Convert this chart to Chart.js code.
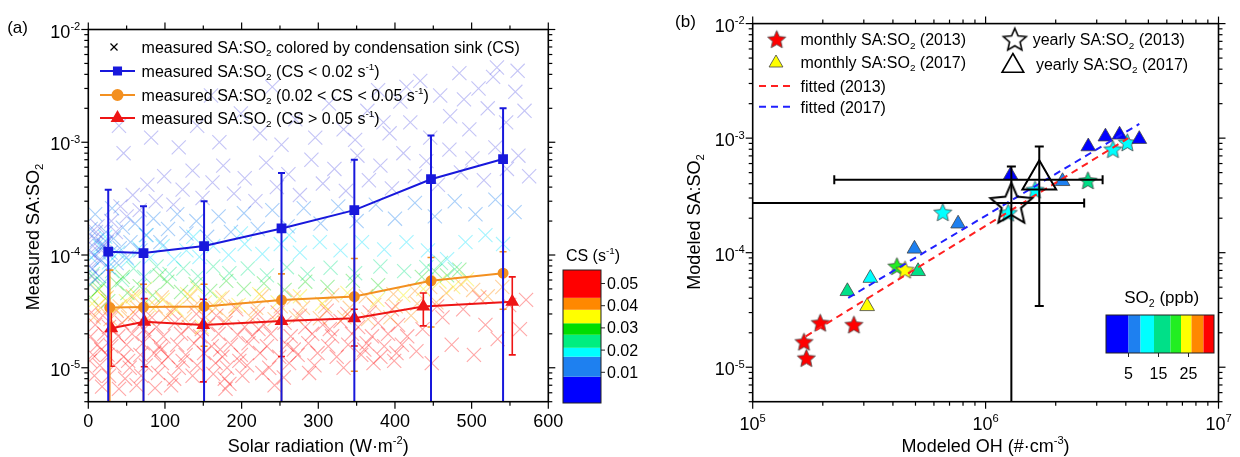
<!DOCTYPE html>
<html>
<head>
<meta charset="utf-8">
<script src="https://cdn.jsdelivr.net/npm/chart.js@4.4.0/dist/chart.umd.min.js"></script>
<style>
  body { margin: 0; background: #fff; width: 1240px; height: 457px; overflow: hidden; position: relative; }
  canvas { position: absolute; top: 0; }
  #chartA { left: 0; }
  #chartB { left: 620px; }
</style>
</head>
<body>
<canvas id="chartA" width="700" height="457"></canvas>
<canvas id="chartB" width="620" height="457"></canvas>
<script>
// ---------- panel (a): measured SA:SO2 vs solar radiation ----------
const blueX = [26, 72, 151, 252, 347, 447, 541];
const blueY = [1.07e-4, 1.04e-4, 1.2e-4, 1.72e-4, 2.5e-4, 4.7e-4, 7.1e-4];
const blueHi = [3.8e-4, 2.7e-4, 3.0e-4, 5.35e-4, 7.0e-4, 1.15e-3, 2.0e-3];
const blueLo = [1e-6, 1e-6, 1e-6, 1e-6, 1e-6, 1e-6, 1e-6];

const orangeX = [28, 72, 151, 252, 347, 447, 541];
const orangeY = [3.42e-5, 3.45e-5, 3.5e-5, 3.98e-5, 4.28e-5, 5.9e-5, 6.9e-5];
const orangeHi = [7.35e-5, 5.5e-5, 5.5e-5, 6.8e-5, 9.3e-5, 9.5e-5, 1.07e-4];
const orangeLo = [1e-6, 1e-6, 1.55e-5, 1e-6, 9.3e-6, 2.3e-5, 3.3e-5];

const redX = [30, 73, 150, 252, 347, 437, 553];
const redY = [2.24e-5, 2.56e-5, 2.4e-5, 2.6e-5, 2.75e-5, 3.5e-5, 3.85e-5];
const redHi = [3.5e-5, 4.1e-5, 4.05e-5, 4.0e-5, 3.3e-5, 4.6e-5, 6.4e-5];
const redLo = [1.03e-5, 1.02e-5, 7.5e-6, 1.26e-5, 1.56e-5, 2.35e-5, 1.3e-5];

// individual measurements, grouped by condensation-sink band [radiation, SA:SO2]
const cloudBlue = [[3,1.05e-4],[7,1.4e-4],[12,1.8e-4],[17,1.1e-4],[24,1.3e-4],[30,2e-4],[36,1.6e-4],[42,2.7e-4],[50,2.2e-4],[58,3.4e-4],
  [67,2.5e-4],[77,4.2e-4],[88,3e-4],[99,5e-4],[111,2.8e-4],[123,3.8e-4],[136,5.6e-4],[149,3.2e-4],[162,4.4e-4],[176,6.2e-4],
  [190,3.5e-4],[204,4.8e-4],[218,3e-4],[232,6.6e-4],[246,4e-4],[261,5.2e-4],[276,3.4e-4],[291,7e-4],[306,4.3e-4],[321,5.8e-4],
  [336,3.7e-4],[351,7.6e-4],[366,4.6e-4],[381,6.2e-4],[396,3.9e-4],[411,8e-4],[426,5e-4],[441,6.8e-4],[456,4.2e-4],[471,8.6e-4],
  [486,5.4e-4],[501,7.2e-4],[516,4.6e-4],[531,9e-4],[546,5.8e-4],[561,7.6e-4],[575,5e-4],
  [46,8e-4],[82,1.1e-3],[118,9e-4],[142,1.4e-3],[171,1e-3],[199,1.8e-3],[224,1.2e-3],[252,9.5e-4],[270,1.6e-3],
  [296,1.1e-3],[314,2.2e-3],[333,1.3e-3],[348,1.05e-3],[364,1.9e-3],[378,2.9e-3],[393,1.2e-3],[407,2.3e-3],[420,1.5e-3],[433,3.5e-3],
  [446,1.1e-3],[459,2.6e-3],[472,1.7e-3],[484,4.1e-3],[497,1.3e-3],[509,3e-3],[521,2e-3],[533,4.6e-3],[545,1.5e-3],[557,2.8e-3],
  [569,1.9e-3],[528,3.8e-3],[560,4.3e-3],[490,2.4e-3],[415,3.1e-3],[385,1.5e-3],[40,1.4e-3],[160,2.6e-3],[240,3.1e-3],
  [2,8e-5],[6,1.2e-4],[10,1.6e-4],[14,9e-5],[19,1.25e-4],[5,6.5e-5]];
const cloudAzure = [[2,5.5e-5],[5,7.5e-5],[8,1e-4],[11,1.35e-4],[14,6.5e-5],[17,9e-5],[20,1.2e-4],[23,1.6e-4],[26,7.8e-5],[29,1.05e-4],
  [33,1.4e-4],[37,8.5e-5],[41,1.15e-4],[45,1.75e-4],[50,9.5e-5],[55,1.3e-4],[61,1.9e-4],[68,1.1e-4],[76,1.5e-4],[85,2.1e-4],
  [94,1.3e-4],[104,1.7e-4],[116,2.3e-4],[128,1.55e-4],[141,2e-4],[155,1.45e-4],[170,2.2e-4],[186,1.6e-4],[203,2.35e-4],[221,1.7e-4],
  [240,2.5e-4],[260,1.8e-4],[281,2.6e-4],[303,1.9e-4],[326,2.7e-4],[350,2e-4],[375,2.8e-4],[400,2.1e-4],[426,2.9e-4],[452,2.2e-4],
  [478,3e-4],[505,2.3e-4],[531,3.1e-4],[556,2.4e-4],[9,2.3e-4],[31,2.6e-4],[3,1.7e-4]];
const cloudCyan = [[4,9.5e-5],[15,1.2e-4],[27,8.6e-5],[39,1.05e-4],[52,9e-5],[66,1.15e-4],[81,9.5e-5],[97,1.2e-4],[112,9.2e-5],[128,1.1e-4],
  [145,9.6e-5],[163,1.2e-4],[183,1e-4],[204,1.25e-4],[227,1.02e-4],[251,1.25e-4],[276,1.05e-4],[302,1.3e-4],[329,1.1e-4],[357,1.3e-4],
  [386,1.12e-4],[415,1.3e-4],[443,1.1e-4],[468,9.2e-5],[492,1.3e-4],[518,1.5e-4],[541,1.25e-4],[22,1.45e-4],[75,1.5e-4],[137,1.45e-4],
  [199,1.55e-4],[262,1.5e-4]];
const cloudSpring = [[6,6.8e-5],[19,5.6e-5],[31,7.2e-5],[44,6e-5],[59,7.6e-5],[73,6.4e-5],[89,7.9e-5],[106,6.8e-5],[124,7.6e-5],[143,6.5e-5],
  [163,7.9e-5],[184,6.9e-5],[208,7.6e-5],[233,6.6e-5],[259,7.8e-5],[286,6.8e-5],[316,7.7e-5],[348,6.9e-5],[381,7.9e-5],[412,7.2e-5],
  [441,7.8e-5],[460,8.5e-5],[478,7.5e-5]];
const cloudGreen = [[3,4.2e-5],[14,5e-5],[26,3.9e-5],[37,5.6e-5],[51,4.6e-5],[67,5.3e-5],[84,4.4e-5],[103,5.8e-5],[121,4.7e-5],[140,5.5e-5],
  [159,4.8e-5],[180,5.9e-5],[203,5e-5],[229,5.6e-5],[256,4.9e-5],[283,5.8e-5],[312,5.2e-5],[345,5.9e-5],[378,5.4e-5],[435,6.4e-5],
  [452,7.2e-5],[468,6.6e-5],[484,7.4e-5],[9,6e-5],[45,6.4e-5],[93,6.6e-5]];
const cloudYellow = [[5,3.7e-5],[22,4.1e-5],[36,3.3e-5],[49,3.9e-5],[63,4.4e-5],[80,3.6e-5],[97,4e-5],[115,3.3e-5],[129,4.5e-5],[148,2.3e-5],
  [152,3.8e-5],[171,4.1e-5],[196,3.6e-5],[223,4.5e-5],[247,3.8e-5],[276,4.3e-5],[305,3.7e-5],[338,4.6e-5],[377,4e-5],[411,4.4e-5],
  [437,5e-5],[458,5.8e-5],[476,5.2e-5],[494,6.1e-5],[12,4.8e-5],[74,5e-5],[142,5.1e-5]];
const cloudOrange = [[7,2.8e-5],[29,2.7e-5],[52,2.8e-5],[77,2.75e-5],[101,2.8e-5],[126,2.7e-5],[153,2.8e-5],[181,2.75e-5],[212,2.8e-5],[243,2.7e-5],
  [271,2.8e-5],[302,2.75e-5],[334,2.8e-5],[365,2.7e-5],[394,2.8e-5],[421,2.9e-5],
  [16,3.4e-5],[41,3.5e-5],[64,3.4e-5],[88,3.5e-5],[111,3.4e-5],[138,3.5e-5],[166,3.4e-5],[192,3.5e-5],[219,3.4e-5],[251,3.5e-5],
  [280,3.4e-5],[309,3.5e-5],[341,3.4e-5],[373,3.6e-5],[401,3.5e-5],[429,3.7e-5],[454,3.8e-5],
  [24,4.2e-5],[58,4.3e-5],[96,4.2e-5],[133,4.3e-5],[175,4.2e-5],[226,4.3e-5],[268,4.2e-5],[318,4.4e-5],[362,4.3e-5],[398,4.5e-5],
  [426,4.8e-5],[446,5.2e-5],[467,4.6e-5],[486,5.5e-5],[502,4.9e-5],[521,4.3e-5],[540,5.2e-5]];
const cloudRed = [[4,3.1e-5],[19,2.9e-5],[37,3.2e-5],[61,3e-5],[83,2.8e-5],[108,3.1e-5],[141,3e-5],[167,2.9e-5],[193,3.3e-5],[221,3e-5],
  [247,3.1e-5],[276,2.9e-5],[311,3.2e-5],[338,3e-5],[367,3.1e-5],[396,3.3e-5],
  [9,2.4e-5],[27,2.3e-5],[44,2.5e-5],[66,2.4e-5],[89,2.3e-5],[113,2.5e-5],[131,2.3e-5],[156,2.4e-5],[179,2.5e-5],[204,2.3e-5],
  [229,2.4e-5],[256,2.5e-5],[283,2.3e-5],[306,2.4e-5],[329,2.6e-5],[352,2.3e-5],[378,2.5e-5],[404,2.4e-5],
  [3,1.9e-5],[21,2e-5],[39,1.9e-5],[57,2e-5],[78,1.95e-5],[98,1.9e-5],[121,2e-5],[146,1.9e-5],[170,2e-5],[195,1.95e-5],
  [214,1.9e-5],[238,2e-5],[264,1.9e-5],[292,2e-5],[318,1.9e-5],[344,2e-5],[370,1.9e-5],[391,2e-5],[416,1.9e-5],
  [12,1.6e-5],[30,1.55e-5],[50,1.6e-5],[71,1.65e-5],[93,1.55e-5],[116,1.6e-5],[138,1.65e-5],[161,1.55e-5],[186,1.6e-5],[209,1.65e-5],
  [233,1.55e-5],[259,1.6e-5],[287,1.65e-5],[313,1.55e-5],[339,1.6e-5],[363,1.65e-5],[386,1.55e-5],[409,1.6e-5],
  [6,1.3e-5],[25,1.3e-5],[46,1.25e-5],[68,1.3e-5],[86,1.35e-5],[104,1.25e-5],[127,1.3e-5],[151,1.35e-5],[175,1.25e-5],[199,1.3e-5],
  [224,1.35e-5],[249,1.25e-5],[273,1.3e-5],[299,1.35e-5],[324,1.25e-5],[356,1.3e-5],[381,1.25e-5],[402,1.35e-5],
  [15,1.05e-5],[34,1.05e-5],[54,1e-5],[75,1.05e-5],[96,1.1e-5],[118,1e-5],[142,1.05e-5],[166,1.1e-5],[181,1e-5],[207,1.05e-5],
  [236,1e-5],[262,1.1e-5],[295,1.05e-5],[333,1e-5],[372,1.1e-5],[399,1.15e-5],
  [8,8.5e-6],[27,8.5e-6],[48,8e-6],[69,8.5e-6],[91,9e-6],[112,8e-6],[136,8.5e-6],[163,8.8e-6],[178,8e-6],[201,8.5e-6],
  [227,9e-6],[255,8.2e-6],[288,9e-6],
  [18,6.8e-6],[40,6.5e-6],[63,7e-6],[87,6.6e-6],[108,7e-6],[179,6.5e-6],[184,7.2e-6],[243,7e-6],
  [428,1.4e-5],[436,2.2e-5],[448,1.1e-5],[462,2.8e-5],[474,1.6e-5],[489,3.3e-5],[503,1.3e-5],[518,2.4e-5],[534,1.8e-5],[549,3.6e-5],
  [563,2.2e-5],[571,4e-5],[455,3.5e-5],[510,4.2e-5],
  [2,1.15e-5],[17,1.45e-5],[33,2.15e-5],[52,1.15e-5],[73,2.2e-5],[95,1.45e-5],[123,1.15e-5],[148,2.2e-5],[172,1.45e-5],[197,1.15e-5],
  [222,2.2e-5],[268,1.45e-5],[315,2.2e-5],[360,1.45e-5]];

// CS colour bar: band colours bottom to top, edges in s^-1, tick labels
const csColors = ['#0000ff', '#1e80f0', '#00ffff', '#00ee80', '#00dd00', '#ffff00', '#ff8800', '#ff0000'];
const csEdges = [-0.0043, 0.0078, 0.017, 0.0211, 0.0271, 0.0324, 0.0386, 0.0441, 0.0569];
const csTicks = [0.01, 0.02, 0.03, 0.04, 0.05];

// ---------- panel (b): modeled SA:SO2 vs modeled OH ----------
const so2Colors = ['#0000ff', '#1e80f0', '#00ffff', '#00e088', '#22ee22', '#ffff00', '#ff8800', '#ff0000'];
const so2Edges = [-2.5, 5, 9, 13.5, 19, 22.5, 26, 30, 33.5];
const so2Ticks = [5, 15, 25];

const ohMonthly2013 = [1.66e5, 1.7e5, 1.95e5, 2.72e5, 4.16e5, 4.51e5, 6.55e5, 1.25e6, 1.63e6, 2.75e6, 3.52e6, 4.06e6];
const saMonthly2013 = [1.665e-5, 1.2e-5, 2.44e-5, 2.35e-5, 7.6e-5, 7.1e-5, 2.25e-4, 2.23e-4, 3.54e-4, 4.27e-4, 8.0e-4, 9.16e-4];
const bandMonthly2013 = [7, 7, 7, 7, 4, 5, 2, 2, 2, 3, 2, 2];

const ohMonthly2017 = [2.55e5, 3.1e5, 3.2e5, 5.13e5, 4.95e5, 7.62e5, 1.28e6, 2.14e6, 2.76e6, 3.27e6, 3.76e6, 4.57e6];
const saMonthly2017 = [4.6e-5, 3.4e-5, 6.0e-5, 6.88e-5, 1.08e-4, 1.79e-4, 4.75e-4, 4.2e-4, 8.45e-4, 1.03e-3, 1.07e-3, 9.8e-4];
const bandMonthly2017 = [3, 5, 2, 3, 1, 1, 0, 1, 0, 0, 0, 0];

const yearly2013 = { oh: 1.29e6, sa: 2.71e-4, ohLo: 5e4, ohHi: 2.65e6, saLo: 1e-6, saHi: 5.65e-4 };
const yearly2017 = { oh: 1.7e6, sa: 4.33e-4, ohLo: 2.24e5, ohHi: 3.18e6, saLo: 3.43e-5, saHi: 8.45e-4 };

const fitOH2013 = [1.69e5, 4.1e6];
const fitSA2013 = [1.86e-5, 1.0e-3];
const fitOH2017 = [2.57e5, 4.57e6];
const fitSA2017 = [4.03e-5, 1.33e-3];

// ---------- drawing helpers ----------
const FONT = '"Liberation Sans", Arial, Helvetica, sans-serif';
const BLUE = '#1818dc', ORANGE = '#f39020', RED = '#ee1515';

function richText(ctx, x, y, parts, size, align = 'left') {
  const small = size * 0.62;
  const w = parts.map(([t, k]) => { ctx.font = `${k ? small : size}px ${FONT}`; return ctx.measureText(t).width; });
  const total = w.reduce((s, v) => s + v, 0);
  let cx = align === 'center' ? x - total / 2 : align === 'right' ? x - total : x;
  ctx.textAlign = 'left';
  ctx.textBaseline = 'alphabetic';
  ctx.fillStyle = '#000';
  parts.forEach(([t, k], i) => {
    ctx.font = `${k ? small : size}px ${FONT}`;
    const dy = k === 'sup' ? -size * 0.42 : k === 'sub' ? size * 0.22 : 0;
    ctx.fillText(t, cx, y + dy);
    cx += w[i];
  });
}

function seg(ctx, x1, y1, x2, y2) {
  ctx.beginPath(); ctx.moveTo(x1, y1); ctx.lineTo(x2, y2); ctx.stroke();
}

function logTicks(lo, hi) {
  const out = [];
  for (let e = -8; e <= 8; e++) {
    for (let m = 1; m < 10; m++) {
      const v = m * Math.pow(10, e);
      if (v >= lo * 0.999 && v <= hi * 1.001) out.push([v, m === 1, e]);
    }
  }
  return out;
}

function starCanvas(r, fill, stroke, lw) {
  const s = Math.ceil(2 * r + 2 * lw + 2);
  const c = document.createElement('canvas');
  c.width = c.height = s;
  const g = c.getContext('2d');
  g.beginPath();
  for (let i = 0; i < 10; i++) {
    const rr = i % 2 ? r * 0.46 : r;
    const a = -Math.PI / 2 + i * Math.PI / 5;
    g.lineTo(s / 2 + rr * Math.cos(a), s / 2 + rr * Math.sin(a) + r * 0.08);
  }
  g.closePath();
  if (fill) { g.fillStyle = fill; g.fill(); }
  g.lineWidth = lw; g.strokeStyle = stroke; g.lineJoin = 'miter'; g.stroke();
  return c;
}

const pts = arr => arr.map(([x, y]) => ({ x, y }));
const zip = (xs, ys) => xs.map((x, i) => ({ x, y: ys[i] }));

// frame, mirrored outward ticks and tick labels
function drawAxes(chart, o) {
  const { ctx, chartArea: a, scales: { x, y } } = chart;
  ctx.save();
  ctx.strokeStyle = '#000';
  ctx.lineWidth = 1.2;
  o.xTicks.forEach(([v, major]) => {
    const px = x.getPixelForValue(v), L = major ? 7 : 4;
    seg(ctx, px, a.bottom, px, a.bottom + L);
    seg(ctx, px, a.top, px, a.top - L);
  });
  o.yTicks.forEach(([v, major]) => {
    const py = y.getPixelForValue(v), L = major ? 7 : 4;
    seg(ctx, a.left, py, a.left - L, py);
    seg(ctx, a.right, py, a.right + L, py);
  });
  ctx.lineWidth = 1.6;
  ctx.strokeRect(a.left, a.top, a.right - a.left, a.bottom - a.top);
  o.xLabels.forEach(([v, parts]) => richText(ctx, x.getPixelForValue(v), o.xLabelY, parts, 18, 'center'));
  o.yLabels.forEach(([v, parts]) => richText(ctx, a.left - 8, y.getPixelForValue(v) + 8, parts, 18, 'right'));
  richText(ctx, (a.left + a.right) / 2, 452, o.xTitle, 18, 'center');
  ctx.save();
  ctx.translate(o.yTitleX, o.yTitleY);
  ctx.rotate(-Math.PI / 2);
  richText(ctx, 0, 6, o.yTitle, 18, 'center');
  ctx.restore();
  richText(ctx, o.panel[0], o.panel[1], [[o.panel[2], '']], 17, 'center');
  ctx.restore();
}

// vertical / horizontal error bars, drawn just below each series
const errorBars = {
  id: 'errorBars',
  beforeDatasetDraw(chart, args) {
    const ds = chart.data.datasets[args.index];
    if (!ds.errHi && !ds.errXHi) return;
    const { ctx, chartArea: a, scales: { x, y } } = chart;
    ctx.save();
    ctx.beginPath();
    ctx.rect(a.left, a.top, a.right - a.left, a.bottom - a.top);
    ctx.clip();
    ctx.strokeStyle = ds.errColor;
    ctx.lineWidth = ds.errWidth;
    const cap = ds.errCap;
    ds.data.forEach((p, i) => {
      const px = x.getPixelForValue(p.x), py = y.getPixelForValue(p.y);
      if (ds.errHi) {
        const t = y.getPixelForValue(ds.errHi[i]), b = y.getPixelForValue(ds.errLo[i]);
        seg(ctx, px, t, px, b);
        seg(ctx, px - cap, t, px + cap, t);
        seg(ctx, px - cap, b, px + cap, b);
      }
      if (ds.errXHi) {
        const l = x.getPixelForValue(ds.errXLo[i]), r = x.getPixelForValue(ds.errXHi[i]);
        seg(ctx, l, py, r, py);
        seg(ctx, l, py - cap, l, py + cap);
        seg(ctx, r, py - cap, r, py + cap);
      }
    });
    ctx.restore();
  }
};

// ---------- chart (a) ----------
const yTickA = logTicks(5e-6, 1e-2);
const xTickA = [];
for (let v = 0; v <= 600; v += 50) xTickA.push([v, v % 100 === 0]);

const cloudSets = [
  [cloudBlue, 'rgba(60,60,225,0.30)'],
  [cloudAzure, 'rgba(30,128,240,0.38)'],
  [cloudCyan, 'rgba(0,225,255,0.36)'],
  [cloudSpring, 'rgba(0,228,130,0.36)'],
  [cloudGreen, 'rgba(0,210,0,0.34)'],
  [cloudYellow, 'rgba(245,235,0,0.42)'],
  [cloudOrange, 'rgba(255,136,0,0.38)'],
  [cloudRed, 'rgba(255,10,10,0.36)']
].map(([arr, col]) => ({
  data: pts(arr), showLine: false, pointStyle: 'crossRot', pointRadius: 10,
  borderColor: col, backgroundColor: col, borderWidth: 1.1, order: 10
}));

const panelA = {
  id: 'panelA',
  afterDraw(chart) {
    const ctx = chart.ctx;
    drawAxes(chart, {
      xTicks: xTickA, yTicks: yTickA,
      xLabels: [0, 100, 200, 300, 400, 500, 600].map(v => [v, [[String(v), '']]]),
      yLabels: yTickA.filter(t => t[1]).map(([v, , e]) => [v, [['10', ''], [String(e), 'sup']]]),
      xLabelY: 427,
      xTitle: [['Solar radiation (W·m', ''], ['-2', 'sup'], [')', '']],
      yTitle: [['Measured SA:SO', ''], ['2', 'sub']],
      yTitleX: 33, yTitleY: 237,
      panel: [17.6, 33, '(a)']
    });
    // legend
    ctx.save();
    ctx.strokeStyle = '#000'; ctx.lineWidth = 1.3;
    seg(ctx, 110.5, 43.5, 117.5, 50.5); seg(ctx, 110.5, 50.5, 117.5, 43.5);
    richText(ctx, 141.6, 52.5, [['measured SA:SO', ''], ['2', 'sub'], [' colored by condensation sink (CS)', '']], 16);
    const rows = [
      [71, BLUE, 'rect', [['measured SA:SO', ''], ['2', 'sub'], [' (CS < 0.02 s', ''], ['-1', 'sup'], [')', '']]],
      [95, ORANGE, 'circle', [['measured SA:SO', ''], ['2', 'sub'], [' (0.02 < CS < 0.05 s', ''], ['-1', 'sup'], [')', '']]],
      [118, RED, 'triangle', [['measured SA:SO', ''], ['2', 'sub'], [' (CS > 0.05 s', ''], ['-1', 'sup'], [')', '']]]
    ];
    rows.forEach(([yy, col, shape, parts]) => {
      ctx.strokeStyle = col; ctx.fillStyle = col; ctx.lineWidth = 2;
      seg(ctx, 100, yy, 135, yy);
      Chart.helpers.drawPoint(ctx, { pointStyle: shape, radius: shape === 'triangle' ? 6 : 5, borderWidth: 1 }, 117.5, yy);
      richText(ctx, 141.6, yy + 5.5, parts, 16);
    });
    // CS colour bar
    const top = 270, bot = 403, bx = 563, bw = 38;
    const cy = v => bot - (v - csEdges[0]) / (csEdges[8] - csEdges[0]) * (bot - top);
    csColors.forEach((c, i) => {
      ctx.fillStyle = c;
      ctx.fillRect(bx, cy(csEdges[i + 1]), bw, cy(csEdges[i]) - cy(csEdges[i + 1]));
    });
    ctx.strokeStyle = '#222'; ctx.lineWidth = 1;
    ctx.strokeRect(bx, top, bw, bot - top);
    csTicks.forEach(v => {
      const yy = 372.3 - (v - 0.01) / 0.01 * 22.2;
      seg(ctx, bx + bw, yy, bx + bw + 4, yy);
      richText(ctx, bx + bw + 6, yy + 5.5, [[v.toFixed(2), '']], 16);
    });
    richText(ctx, 593, 261, [['CS (s', ''], ['-1', 'sup'], [')', '']], 16, 'center');
    ctx.restore();
  }
};

new Chart(document.getElementById('chartA'), {
  type: 'scatter',
  data: {
    datasets: [
      { data: zip(blueX, blueY), showLine: true, borderColor: BLUE, backgroundColor: BLUE, borderWidth: 2,
        pointStyle: 'rect', pointRadius: 5.5, errHi: blueHi, errLo: blueLo, errColor: BLUE, errWidth: 2, errCap: 3.5, order: 1 },
      { data: zip(orangeX, orangeY), showLine: true, borderColor: ORANGE, backgroundColor: ORANGE, borderWidth: 2,
        pointStyle: 'circle', pointRadius: 4.5, errHi: orangeHi, errLo: orangeLo, errColor: ORANGE, errWidth: 1.6, errCap: 3.5, order: 2 },
      { data: zip(redX, redY), showLine: true, borderColor: RED, backgroundColor: RED, borderWidth: 2,
        pointStyle: 'triangle', pointRadius: 6, errHi: redHi, errLo: redLo, errColor: RED, errWidth: 1.6, errCap: 3.5, order: 3 },
      ...cloudSets
    ]
  },
  options: {
    responsive: false, animation: false, devicePixelRatio: 1, events: [],
    layout: { padding: { left: 88.3, top: 29.5, right: 151.7, bottom: 55.3 } },
    plugins: { legend: { display: false }, tooltip: { enabled: false } },
    scales: {
      x: { type: 'linear', min: 0, max: 600, display: false },
      y: { type: 'logarithmic', min: 5e-6, max: 1e-2, display: false }
    }
  },
  plugins: [errorBars, panelA]
});

// ---------- chart (b) ----------
const starIcons = so2Colors.map(c => starCanvas(9.5, c, '#444', 0.8));
const yearStar = starCanvas(22, null, '#000', 2);
const legendYearStar = starCanvas(12, null, '#000', 1.6);
const yTickB = logTicks(5e-6, 1e-2);
const xTickB = logTicks(1e5, 1e7);

const panelB = {
  id: 'panelB',
  afterDraw(chart) {
    const ctx = chart.ctx;
    drawAxes(chart, {
      xTicks: xTickB, yTicks: yTickB,
      xLabels: xTickB.filter(t => t[1]).map(([v, , e]) => [v, [['10', ''], [String(e), 'sup']]]),
      yLabels: yTickB.filter(t => t[1]).map(([v, , e]) => [v, [['10', ''], [String(e), 'sup']]]),
      xLabelY: 430,
      xTitle: [['Modeled OH (#·cm', ''], ['-3', 'sup'], [')', '']],
      yTitle: [['Modeled SA:SO', ''], ['2', 'sub']],
      yTitleX: 74, yTitleY: 222,
      panel: [65.5, 27, '(b)']
    });
    ctx.save();
    // legend
    ctx.drawImage(starIcons[7], 156.7 - starIcons[7].width / 2, 39.3 - starIcons[7].height / 2);
    richText(ctx, 180.5, 45, [['monthly SA:SO', ''], ['2', 'sub'], [' (2013)', '']], 16);
    ctx.fillStyle = so2Colors[5]; ctx.strokeStyle = '#444'; ctx.lineWidth = 0.8;
    Chart.helpers.drawPoint(ctx, { pointStyle: 'triangle', radius: 8, borderWidth: 0.8 }, 156, 63);
    richText(ctx, 180.5, 67.5, [['monthly SA:SO', ''], ['2', 'sub'], [' (2017)', '']], 16);
    ctx.lineWidth = 2; ctx.setLineDash([7, 5]);
    ctx.strokeStyle = '#ff2020'; seg(ctx, 139, 86, 171, 86);
    ctx.strokeStyle = '#2020ff'; seg(ctx, 139, 106.7, 171, 106.7);
    ctx.setLineDash([]);
    richText(ctx, 180.5, 92, [['fitted (2013)', '']], 16);
    richText(ctx, 180.5, 112.5, [['fitted (2017)', '']], 16);
    ctx.drawImage(legendYearStar, 394.8 - legendYearStar.width / 2, 39.3 - legendYearStar.height / 2);
    richText(ctx, 412.7, 45, [['yearly SA:SO', ''], ['2', 'sub'], [' (2013)', '']], 16);
    ctx.fillStyle = 'rgba(0,0,0,0)'; ctx.strokeStyle = '#000'; ctx.lineWidth = 1.6;
    Chart.helpers.drawPoint(ctx, { pointStyle: 'triangle', radius: 12.5, borderWidth: 1.6 }, 392.9, 66);
    richText(ctx, 415.9, 69.5, [['yearly SA:SO', ''], ['2', 'sub'], [' (2017)', '']], 16);
    // SO2 colour bar
    const left = 486, right = 594, top = 315, bot = 353;
    const cx = v => left + (v - so2Edges[0]) / (so2Edges[8] - so2Edges[0]) * (right - left);
    so2Colors.forEach((c, i) => {
      ctx.fillStyle = c;
      ctx.fillRect(cx(so2Edges[i]), top, cx(so2Edges[i + 1]) - cx(so2Edges[i]), bot - top);
    });
    ctx.strokeStyle = '#222'; ctx.lineWidth = 1;
    ctx.strokeRect(left, top, right - left, bot - top);
    so2Ticks.forEach(v => {
      seg(ctx, cx(v), bot, cx(v), bot + 4);
      richText(ctx, cx(v), 378.5, [[String(v), '']], 16, 'center');
    });
    richText(ctx, 541.7, 303, [['SO', ''], ['2', 'sub'], [' (ppb)', '']], 17, 'center');
    ctx.restore();
  }
};

new Chart(document.getElementById('chartB'), {
  type: 'scatter',
  data: {
    datasets: [
      { data: [{ x: yearly2017.oh, y: yearly2017.sa }], pointStyle: 'triangle', pointRadius: 19.5,
        backgroundColor: 'rgba(0,0,0,0)', borderColor: '#000', borderWidth: 2,
        errHi: [yearly2017.saHi], errLo: [yearly2017.saLo], errXHi: [yearly2017.ohHi], errXLo: [yearly2017.ohLo],
        errColor: '#000', errWidth: 2, errCap: 4.5, order: 0 },
      { data: [{ x: yearly2013.oh, y: yearly2013.sa }], pointStyle: yearStar, pointRadius: 20,
        errHi: [yearly2013.saHi], errLo: [yearly2013.saLo], errXHi: [yearly2013.ohHi], errXLo: [yearly2013.ohLo],
        errColor: '#000', errWidth: 2, errCap: 4.5, order: 1 },
      { data: zip(fitOH2013, fitSA2013), showLine: true, pointRadius: 0, borderColor: '#ff2020',
        borderWidth: 2, borderDash: [7, 5], order: 2 },
      { data: zip(fitOH2017, fitSA2017), showLine: true, pointRadius: 0, borderColor: '#2020ff',
        borderWidth: 2, borderDash: [7, 5], order: 3 },
      { data: zip(ohMonthly2017, saMonthly2017), pointStyle: 'triangle', pointRadius: 8.5,
        backgroundColor: bandMonthly2017.map(b => so2Colors[b]), borderColor: '#444', borderWidth: 0.8, order: 4 },
      { data: zip(ohMonthly2013, saMonthly2013), pointStyle: bandMonthly2013.map(b => starIcons[b]), pointRadius: 10, order: 5 }
    ]
  },
  options: {
    responsive: false, animation: false, devicePixelRatio: 1, events: [],
    layout: { padding: { left: 132.7, top: 23.6, right: 13.3, bottom: 55.3 } },
    plugins: { legend: { display: false }, tooltip: { enabled: false } },
    scales: {
      x: { type: 'logarithmic', min: 1e5, max: 1e7, display: false },
      y: { type: 'logarithmic', min: 5e-6, max: 1e-2, display: false }
    }
  },
  plugins: [errorBars, panelB]
});
</script>
</body>
</html>
